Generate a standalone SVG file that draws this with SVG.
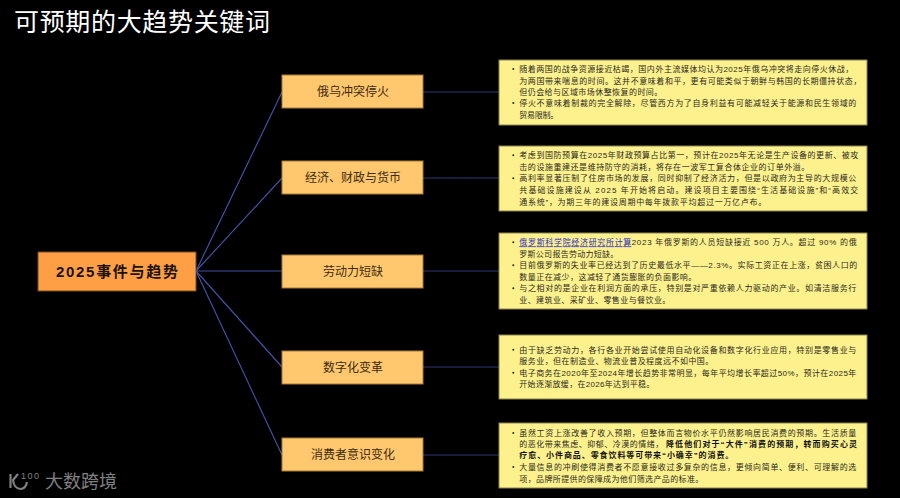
<svg xmlns="http://www.w3.org/2000/svg" width="900" height="498" viewBox="0 0 900 498">
<style>
text{font-family:"Liberation Sans","Noto Sans CJK SC",sans-serif}
.title{font-size:25px;fill:#fff}
.root{fill:#ff9f45;stroke:#7a4a18;stroke-width:1}
.topic{fill:#ffc76e;stroke:#a87b35;stroke-width:1}
.note{fill:#fdf18e;stroke:#8a8450;stroke-width:1}
.rl{font-size:15px;font-weight:700;fill:#1d1206;text-anchor:middle}
.tl{font-size:12px;fill:#3d2c10;text-anchor:middle}
.n{font-size:8px;fill:#2a2a1c}
.b{font-weight:700;fill:#111}
.a{fill:#2b2fc4;text-decoration:underline}
.d{fill:#2a2a1c}
.c{stroke:#3f51a3;stroke-width:1.2;fill:none}
.h{stroke:#2c3b78;stroke-width:1.2;fill:none}
.w{font-size:18px;fill:#808080}
</style>
<rect width="900" height="498" fill="#000"/>
<text class="title" x="14" y="31" textLength="256">可预期的大趋势关键词</text>
<g id="connectors">
<path class="c" d="M196 271L282 92M196 271L282 178M196 271L282 271M196 271L282 367M196 271L282 455"/>
<path class="h" d="M423 92H499M423 178H499M423 271H499M423 367H499M423 455H499"/>
</g>
<g id="root">
<rect class="root" x="38" y="252" width="158" height="39"/>
<text class="rl" x="117" y="276.500" textLength="122">2025事件与趋势</text>
</g>
<g id="topic1">
<rect class="topic" x="282" y="75" width="141" height="33"/>
<text class="tl" x="353" y="96">俄乌冲突停火</text>
</g>
<g id="topic2">
<rect class="topic" x="282" y="161" width="141" height="33"/>
<text class="tl" x="353" y="182">经济、财政与货币</text>
</g>
<g id="topic3">
<rect class="topic" x="282" y="255" width="141" height="33"/>
<text class="tl" x="353" y="276">劳动力短缺</text>
</g>
<g id="topic4">
<rect class="topic" x="282" y="351" width="141" height="33"/>
<text class="tl" x="353" y="372">数字化变革</text>
</g>
<g id="topic5">
<rect class="topic" x="282" y="438" width="141" height="33"/>
<text class="tl" x="353" y="459">消费者意识变化</text>
</g>
<g id="note1">
<rect class="note" x="499" y="60" width="368" height="65"/>
<circle class="d" cx="513.300" cy="69" r="1"/><circle class="d" cx="513.300" cy="103" r="1"/>
<text class="n" x="519.300" y="72" textLength="334">随着两国的战争资源接近枯竭，国内外主流媒体均认为2025年俄乌冲突将走向停火休战，</text>
<text class="n" x="519.300" y="83.700" textLength="342">为两国带来喘息的时间。这并不意味着和平，更有可能类似于朝鲜与韩国的长期僵持状态，</text>
<text class="n" x="519.300" y="95" textLength="143">但仍会给与区域市场休整恢复的时间。</text>
<text class="n" x="519.300" y="106" textLength="337">停火不意味着制裁的完全解除，尽管西方为了自身利益有可能减轻关于能源和民生领域的</text>
<text class="n" x="519.300" y="118" textLength="39">贸易限制。</text>
</g>
<g id="note2">
<rect class="note" x="499" y="146" width="368" height="65"/>
<circle class="d" cx="513.300" cy="155.300" r="1"/><circle class="d" cx="513.300" cy="178.300" r="1"/>
<text class="n" x="519.300" y="158.300" textLength="339">考虑到国防预算在2025年财政预算占比第一，预计在2025年无论是生产设备的更新、被攻</text>
<text class="n" x="519.300" y="169.700" textLength="290">击的设施重建还是维持防守的消耗，将存在一波军工复合体企业的订单外溢。</text>
<text class="n" x="519.300" y="181.300" textLength="337">高利率显著压制了住房市场的发展，同时抑制了经济活力，但是以政府为主导的大规模公</text>
<text class="n" x="519.300" y="193" textLength="339">共基础设施建设从 2025 年开始将启动。建设项目主要围绕“生活基础设施”和“高效交</text>
<text class="n" x="519.300" y="204.700" textLength="247">通系统”，为期三年的建设周期中每年拨款平均超过一万亿卢布。</text>
</g>
<g id="note3">
<rect class="note" x="499" y="233" width="368" height="76"/>
<circle class="d" cx="513.300" cy="242.300" r="1"/><circle class="d" cx="513.300" cy="265.300" r="1"/><circle class="d" cx="513.300" cy="288.300" r="1"/>
<text class="n a" x="519.300" y="245.300" textLength="112">俄罗斯科学院经济研究所计算</text>
<text class="n" x="631.700" y="245.300" textLength="225">2023 年俄罗斯的人员短缺接近 500 万人。超过 90% 的俄</text>
<text class="n" x="519.300" y="257" textLength="99">罗斯公司报告劳动力短缺。</text>
<text class="n" x="519.300" y="268.300" textLength="338">目前俄罗斯的失业率已经达到了历史最低水平——2.3%。实际工资正在上涨，贫困人口的</text>
<text class="n" x="519.300" y="279.700" textLength="177">数量正在减少，这减轻了通货膨胀的负面影响。</text>
<text class="n" x="519.300" y="291.300" textLength="337">与之相对的是企业在利润方面的承压，特别是对严重依赖人力驱动的产业。如清洁服务行</text>
<text class="n" x="519.300" y="302.700" textLength="151">业、建筑业、采矿业、零售业与餐饮业。</text>
</g>
<g id="note4">
<rect class="note" x="499" y="335" width="368" height="64"/>
<circle class="d" cx="513.300" cy="349.700" r="1"/><circle class="d" cx="513.300" cy="372.700" r="1"/>
<text class="n" x="519.300" y="352.700" textLength="337">由于缺乏劳动力，各行各业开始尝试使用自动化设备和数字化行业应用，特别是零售业与</text>
<text class="n" x="519.300" y="364.300" textLength="194">服务业，但在制造业、物流业普及程度远不如中国。</text>
<text class="n" x="519.300" y="375.700" textLength="337">电子商务在2020年至2024年增长趋势非常明显，每年平均增长率超过50%，预计在2025年</text>
<text class="n" x="519.300" y="387.300" textLength="135">开始逐渐放缓，在2026年达到平稳。</text>
</g>
<g id="note5">
<rect class="note" x="499" y="423" width="368" height="65"/>
<circle class="d" cx="513.300" cy="433" r="1"/><circle class="d" cx="513.300" cy="467" r="1"/>
<text class="n" x="519.300" y="436" textLength="337">虽然工资上涨改善了收入预期，但整体而言物价水平仍然影响居民消费的预期。生活质量</text>
<text class="n" x="519.300" y="447.300" textLength="144">的恶化带来焦虑、抑郁、冷漠的情绪，</text>
<text class="n b" x="666" y="447.300" textLength="191">降低他们对于“大件”消费的预期，转而购买心灵</text>
<text class="n b" x="519.300" y="458.300" textLength="214">疗愈、小件商品、零食饮料等可带来“小确幸”的消费。</text>
<text class="n" x="519.300" y="470" textLength="337">大量信息的冲刷使得消费者不愿意接收过多复杂的信息，更倾向简单、便利、可理解的选</text>
<text class="n" x="519.300" y="481.700" textLength="184">项，品牌所提供的保障成为他们筛选产品的标准。</text>
</g>
<g id="watermark">
<path d="M10.500 474V488M18 474L13 480Q14 489 21 489Q26 488 27 482" fill="none" stroke="#808080" stroke-width="2.200"/>
<text x="21" y="479" font-size="9" fill="#808080" textLength="18">100</text>
<text class="w" x="45" y="487.500" textLength="72">大数跨境</text>
</g>
</svg>
